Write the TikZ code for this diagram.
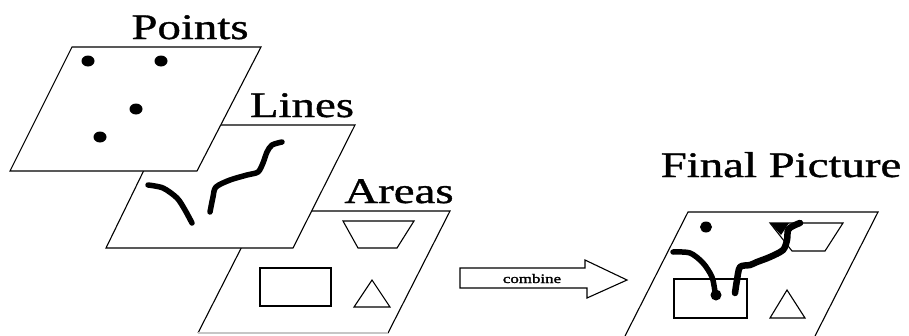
\documentclass[tikz,border=0pt]{standalone}
\usepackage{fontspec}
\setmainfont{Liberation Serif}
\newfontfamily\heavyserif[FakeBold=0.9]{Liberation Serif}
\newfontfamily\heavysmall[FakeBold=1.6]{Liberation Serif}
\begin{document}
\begin{tikzpicture}[x=1pt,y=-1pt,
  layer/.style={draw=black, fill=white, line width=1.1pt, line join=miter},
  edge/.style={line width=1.1pt},
  stroke/.style={line width=5.5pt, line cap=round, line join=round},
  outl/.style={draw=black, line width=1.1pt},
  title/.style={anchor=base, inner sep=0pt, font=\heavyserif\fontsize{36}{40}\selectfont, xscale=1.3},
  small/.style={anchor=base, inner sep=0pt, font=\heavysmall\fontsize{13}{15}\selectfont, xscale=1.3}]
\fill[white] (0,0) rectangle (909,335);
\useasboundingbox (0,0) rectangle (909,335);

% Areas layer
\fill[white] (260,211) -- (450,211) -- (388,333) -- (198,333) -- cycle;
\draw[edge] (198,333) -- (260,211) -- (450,211) -- (388,333);
\draw[edge, gray!45] (198,333) -- (388,333);
\draw[outl] (343,221) -- (414,221) -- (397,248) -- (358,248) -- cycle;
\draw[outl] (260,268) rectangle (331,306);
\draw[outl] (372,280) -- (390,307) -- (354,307) -- cycle;
\node[title] (areas) at (399,203) {Areas};

% Lines layer
\draw[layer] (166,125) -- (355,125) -- (293,248) -- (106,248) -- cycle;
\draw[stroke] plot[smooth] coordinates {(148,185) (163,188) (177,198) (185,210) (192,223)};
\draw[stroke] plot[smooth, tension=0.5] coordinates {(210,212) (213,197) (216,187) (230,180) (247,175) (258,172) (263,163) (267,152) (272,145) (282,142)};
\node[title] (lines) at (302,117) {Lines};

% Points layer
\draw[layer] (72,47) -- (261,47) -- (197,171) -- (10,171) -- cycle;
\fill (88,61) ellipse [x radius=6.5, y radius=5.5];
\fill (161,61) ellipse [x radius=6.5, y radius=5.5];
\fill (136,109) ellipse [x radius=6.5, y radius=5.5];
\fill (100,137) ellipse [x radius=6.5, y radius=5.5];
\node[title] (points) at (190,39) {Points};

% combine arrow
\draw[line width=1.1pt, line join=miter] (460,268) -- (585,268) -- (585,260) -- (627,280) -- (587,298) -- (587,288) -- (460,288) -- cycle;
\node[small] (combine) at (532,283) {combine};

% Final picture
\draw[edge] (625,336) -- (688,212) -- (878,212) -- (815,336);
\fill (706,227) ellipse [x radius=6, y radius=5.5];
\draw[outl] (770,223) -- (843,223) -- (825,251) -- (792,251) -- cycle;
\fill (770,223) -- (789,223) -- (781,235) -- cycle;
\draw[outl] (674,279) rectangle (747,318);
\draw[outl] (787,290) -- (805,318) -- (770,318) -- cycle;
\draw[stroke] plot[smooth] coordinates {(673,252) (690,253) (703,263) (712,277) (715,292)};
\fill (716,295) ellipse [x radius=5.5, y radius=5.5];
\draw[stroke, line width=6.5pt] plot[smooth, tension=0.5] coordinates {(735,293) (737,280) (740,267) (750,265) (757,262) (770,257) (783,250) (787,240) (788,230) (793,226) (800,223)};
\node[title] (final) at (781,177) {Final Picture};
\end{tikzpicture}
\end{document}
